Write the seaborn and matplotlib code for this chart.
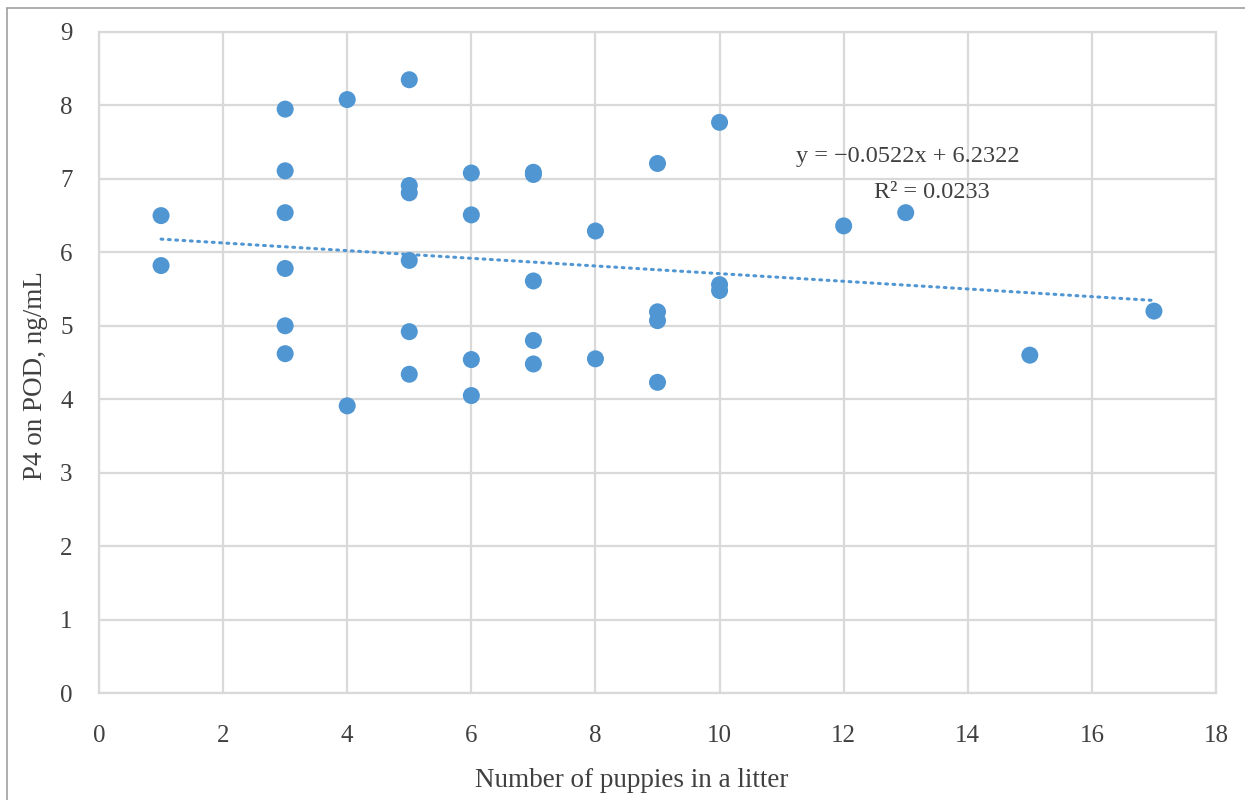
import numpy as np
import pandas as pd
import matplotlib
matplotlib.use("Agg")
import matplotlib.pyplot as plt
import seaborn as sns

# litter size vs P4 on day of ovulation
puppies = [1, 1,
           3, 3, 3, 3, 3, 3,
           4, 4,
           5, 5, 5, 5, 5, 5,
           6, 6, 6, 6,
           7, 7, 7, 7, 7,
           8, 8,
           9, 9, 9, 9,
           10, 10, 10,
           12, 13, 15, 17]
p4 = [6.50, 5.82,
      7.95, 7.11, 6.54, 5.78, 5.00, 4.62,
      8.08, 3.91,
      8.35, 6.91, 6.81, 5.89, 4.92, 4.34,
      7.08, 6.51, 4.54, 4.05,
      7.09, 7.06, 5.61, 4.80, 4.48,
      6.29, 4.55,
      7.21, 5.19, 5.07, 4.23,
      7.77, 5.56, 5.48,
      6.36, 6.54, 4.60, 5.20]
slope = -0.0522
intercept = 6.2322
r2 = 0.0233

data = pd.DataFrame({"puppies": puppies, "p4": p4})

sns.set_style("white")
plt.rcParams['font.family'] = ['Liberation Serif', 'DejaVu Serif']

blue = "#5096d3"
grid_c = "#d9d9d9"
txt_c = "#404040"

fig = plt.figure(figsize=(12.45, 8), dpi=100)
ax = fig.add_axes([99 / 1245, 1 - 693 / 800, (1216 - 99) / 1245, (693 - 32) / 800])

sns.scatterplot(data=data, x="puppies", y="p4", ax=ax, color=blue,
                s=150, edgecolor="none", zorder=3)

xs = np.array([min(puppies), max(puppies)])
ax.plot(xs, slope * xs + intercept, color=blue, linewidth=2.2,
        linestyle=(0, (0.6, 1.8)), dash_capstyle="round", zorder=2)

ax.set_xlim(0, 18)
ax.set_ylim(0, 9)
ax.set_xticks(range(0, 19, 2))
ax.set_yticks(range(0, 10))
ax.grid(True, color=grid_c, linewidth=1.6)
for sp in ax.spines.values():
    sp.set_color(grid_c)
    sp.set_linewidth(1.6)
ax.tick_params(length=0, labelsize=18, colors=txt_c)
ax.tick_params(axis="x", pad=23)
ax.tick_params(axis="y", pad=19)

ax.set_xlabel("Number of puppies in a litter", fontsize=19.5, color=txt_c)
ax.set_ylabel("P4 on POD, ng/mL", fontsize=19.5, color=txt_c)
ax.xaxis.set_label_coords(0.477, -0.113)
ax.yaxis.set_label_coords(-0.046, 0.48)

ax.text(13.04, 7.31, f"y = \u2212{abs(slope):.4f}x + {intercept:.4f}",
        ha="center", va="center", fontsize=17.5, color=txt_c)
ax.text(13.42, 6.82, f"R\u00b2 = {r2:.4f}",
        ha="center", va="center", fontsize=17.5, color=txt_c)

# outer frame (left and top edges visible)
fig.add_artist(plt.Line2D([7 / 1245, 7 / 1245], [0, 1 - 8 / 800],
                          color="#a0a0a0", linewidth=1.2))
fig.add_artist(plt.Line2D([7 / 1245, 1], [1 - 8 / 800, 1 - 8 / 800],
                          color="#a0a0a0", linewidth=1.2))

fig.savefig("out.png", dpi=100, facecolor="white")
